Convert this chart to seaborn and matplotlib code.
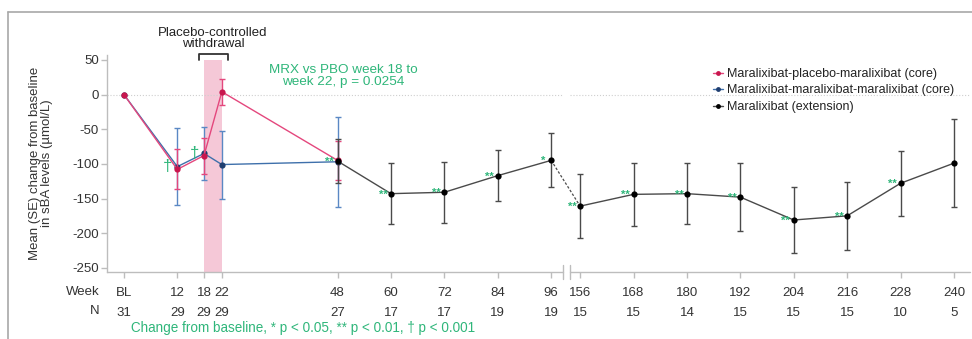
import numpy as np
import matplotlib.pyplot as plt
import seaborn as sns
from matplotlib.lines import Line2D
from matplotlib.transforms import ScaledTranslation

# core study, weeks BL-48 (mean and SE change in sBA, umol/L)
core_weeks = [0, 12, 18, 22, 48]
pbo_mean = [0, -108, -88, 4, -95]
pbo_se = [np.nan, 29, 26, 19, 28]
mrx_mean = [0, -104, -85, -101, -97]
mrx_se = [np.nan, 56, 38, 49, 65]

# extension, weeks 48-240
ext_weeks = [48, 60, 72, 84, 96, 156, 168, 180, 192, 204, 216, 228, 240]
ext_mean = [-96, -143, -141, -117, -95, -161, -144, -143, -148, -181, -175, -128, -99]
ext_se = [32, 44, 44, 37, 39, 46, 45, 44, 49, 48, 49, 47, 63]

tick_weeks = [0, 12, 18, 22, 48, 60, 72, 84, 96, 156, 168, 180, 192, 204, 216, 228, 240]
tick_labels = ['BL'] + [str(w) for w in tick_weeks[1:]]
n_patients = [31, 29, 29, 29, 27, 17, 17, 19, 19, 15, 15, 14, 15, 15, 15, 10, 5]

sig_weeks = [12, 18, 48, 60, 72, 84, 96, 156, 168, 180, 192, 204, 216, 228]
sig_marks = ['†', '†', '**', '**', '**', '**', '*',
             '**', '**', '**', '**', '**', '**', '**']

withdrawal = (18, 22)

PINK, PINK_DOT = '#e4477d', '#c8174e'
BLUE, BLUE_DOT, BLUE_BAR = '#3f70ab', '#1f3e70', '#5a88c4'
GREEN = '#2fb67a'
AXIS_GREY = '#bdbdbd'

# weeks after 96 are shifted left to close the gap at the axis break
GAP = 53.5
BREAK = (98.7, 100.2)


def xpos(weeks):
    w = np.asarray(weeks, dtype=float)
    return np.where(w > 96, w - GAP, w)


sns.set_theme(style='white')
plt.rcParams['font.family'] = ['Liberation Sans', 'DejaVu Sans']
plt.rcParams['axes.unicode_minus'] = False

fig = plt.figure(figsize=(9.72, 3.39), dpi=100)
ax = fig.add_axes([107 / 972, 1 - 272 / 339, 863 / 972, 217 / 339])
ax.set_xlim(-3.8, 190.1)
ax.set_ylim(-256, 57)

# withdrawal period shading
lo, hi = ax.get_ylim()
ax.axvspan(*withdrawal, ymin=0, ymax=(50 - lo) / (hi - lo),
           color='#f5c8d7', lw=0, zorder=0)

# faint zero line, split at the break
ax.plot([ax.get_xlim()[0], BREAK[0]], [0, 0], ls=':', lw=0.8, color='#cfcfcf', zorder=0)
ax.plot([BREAK[1], ax.get_xlim()[1]], [0, 0], ls=':', lw=0.8, color='#cfcfcf', zorder=0)

cx = xpos(core_weeks)
ax.errorbar(cx, mrx_mean, yerr=mrx_se, fmt='none', ecolor=BLUE_BAR,
            elinewidth=1, capsize=2.5, capthick=1, zorder=2)
sns.lineplot(x=cx, y=mrx_mean, ax=ax, color=BLUE, lw=1, marker='o',
             markersize=4.5, markerfacecolor=BLUE_DOT, markeredgewidth=0, zorder=3)
ax.errorbar(cx, pbo_mean, yerr=pbo_se, fmt='none', ecolor=PINK,
            elinewidth=1, capsize=2.5, capthick=1, zorder=3)
sns.lineplot(x=cx, y=pbo_mean, ax=ax, color=PINK, lw=1, marker='o',
             markersize=4.5, markerfacecolor=PINK_DOT, markeredgewidth=0, zorder=3)

ex = xpos(ext_weeks)
ext_mean_a = np.array(ext_mean)
early = np.array(ext_weeks) <= 96
ax.errorbar(ex, ext_mean, yerr=ext_se, fmt='none', ecolor='#4a4a4a',
            elinewidth=1, capsize=2.5, capthick=1, zorder=4)
sns.lineplot(x=ex[early], y=ext_mean_a[early], ax=ax, color='#4a4a4a', lw=1,
             marker='o', markersize=4.5, markerfacecolor='black', markeredgewidth=0, zorder=5)
sns.lineplot(x=ex[~early], y=ext_mean_a[~early], ax=ax, color='#4a4a4a', lw=1,
             marker='o', markersize=4.5, markerfacecolor='black', markeredgewidth=0, zorder=5)
bridge = [np.sum(early) - 1, np.sum(early)]
sns.lineplot(x=ex[bridge], y=ext_mean_a[bridge], ax=ax, color='#4a4a4a', lw=0.9,
             linestyle=(0, (2, 1.5)), zorder=4)

# significance marks
for w, m in zip(sig_weeks, sig_marks):
    yv = mrx_mean[core_weeks.index(w)] if w < 48 else ext_mean[ext_weeks.index(w)]
    if m == '†':
        ax.annotate(m, (xpos(w), yv), xytext=(-6.8, -3.3), textcoords='offset points',
                    ha='center', va='baseline', fontsize=12, color=GREEN, zorder=6)
    else:
        ax.annotate(m, (xpos(w), yv), xytext=(-5.8, -2.7), textcoords='offset points',
                    ha='center', va='baseline', fontsize=8, fontweight='bold',
                    color=GREEN, zorder=6)

# axes styling
for s in ['top', 'right', 'bottom']:
    ax.spines[s].set_visible(False)
ax.spines['left'].set_color(AXIS_GREY)
ax.spines['left'].set_linewidth(1)
xt = ax.get_xaxis_transform()
ax.plot([ax.get_xlim()[0], BREAK[0]], [0, 0], transform=xt, color=AXIS_GREY, lw=1, clip_on=False)
ax.plot([BREAK[1], ax.get_xlim()[1]], [0, 0], transform=xt, color=AXIS_GREY, lw=1, clip_on=False)
for b in BREAK:
    ax.plot([b, b], [-0.03, 0.03], transform=xt, color=AXIS_GREY, lw=1, clip_on=False)

ax.set_yticks([50, 0, -50, -100, -150, -200, -250])
ax.tick_params(axis='y', length=4, width=1, color=AXIS_GREY, pad=2,
               labelsize=9.5, labelcolor='#333333', left=True)
ax.set_xticks(xpos(tick_weeks))
ax.set_xticklabels([f'{t}\n{n}' for t, n in zip(tick_labels, n_patients)],
                   linespacing=1.84)
ax.tick_params(axis='x', length=4, width=1, color=AXIS_GREY, pad=6.9,
               labelsize=9.5, labelcolor='#333333', bottom=True)
ax.grid(False)

off = ScaledTranslation(0, -(4 * 0.72 + 6.9) / 72, fig.dpi_scale_trans)
ax.text(-5.4, 0, 'Week\nN', transform=xt + off, ha='right', va='top',
        fontsize=9.5, color='#333333', linespacing=1.84, multialignment='right')

ax.set_ylabel('Mean (SE) change from baseline\nin sBA levels (µmol/L)',
              fontsize=9.5, color='#333333', linespacing=1.1)
ax.yaxis.set_label_coords(-0.062, 0.5)

# annotations
ax.text(20, 81, 'Placebo-controlled\nwithdrawal', ha='center', va='center',
        fontsize=9.5, color='#222222', linespacing=0.95)
bx = [withdrawal[0] - 1.2, withdrawal[0] - 1.2, withdrawal[1] + 1.3, withdrawal[1] + 1.3]
ax.plot(bx, [50, 58.5, 58.5, 50], color='#333333', lw=1.3, clip_on=False)
ax.text(49.2, 27, 'MRX vs PBO week 18 to\nweek 22, p = 0.0254', ha='center',
        va='center', fontsize=9.7, color=GREEN, linespacing=1.0)

handles = [Line2D([0], [0], color=c, lw=1, marker='o', markersize=3.5,
                  markerfacecolor=mc, markeredgewidth=0)
           for c, mc in [(PINK, PINK_DOT), (BLUE, BLUE_DOT), ('#4a4a4a', 'black')]]
labels = ['Maralixibat-placebo-maralixibat (core)',
          'Maralixibat-maralixibat-maralixibat (core)',
          'Maralixibat (extension)']
fig.legend(handles, labels, loc='upper left', bbox_to_anchor=(713 / 972, 1 - 68 / 339),
           frameon=False, fontsize=9, handlelength=0.8, handletextpad=0.3,
           labelspacing=0.36, borderpad=0, borderaxespad=0, labelcolor='#222222')

fig.text(131 / 972, 1 - 328 / 339,
         'Change from baseline, * p < 0.05, ** p < 0.01, † p < 0.001',
         ha='left', va='center', fontsize=9.75, color=GREEN)

# panel border
fig.add_artist(Line2D([8 / 972, 8 / 972], [0, 1 - 12 / 339], color='#a8a8a8', lw=1.2))
fig.add_artist(Line2D([8 / 972, 1], [1 - 12 / 339, 1 - 12 / 339], color='#a8a8a8', lw=1.2))

fig.savefig('out.png', dpi=100, facecolor='white')
